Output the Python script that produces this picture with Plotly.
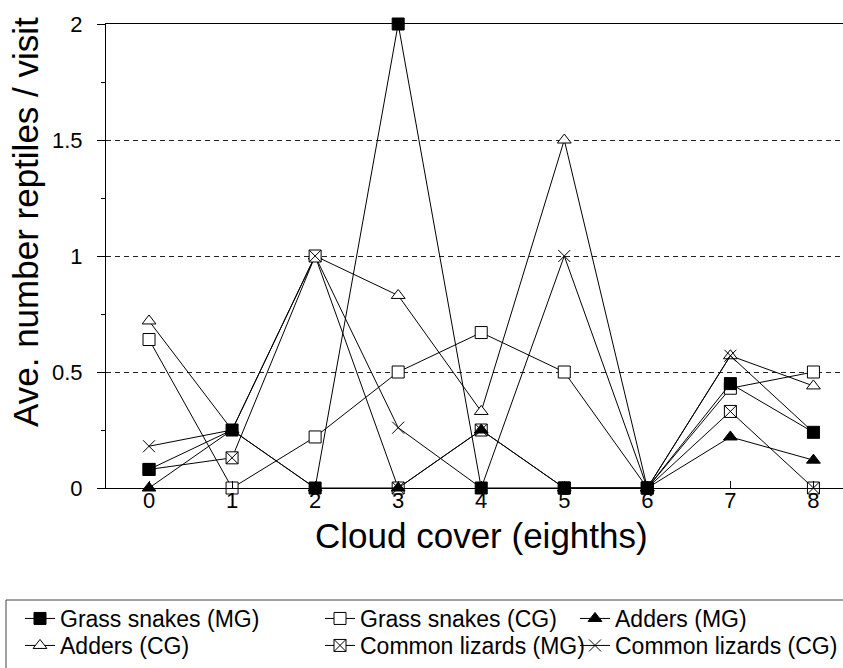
import plotly.graph_objects as go

# Cloud cover in eighths (x categories)
cloud_cover = [0, 1, 2, 3, 4, 5, 6, 7, 8]
x_tick_labels = ["0", "1", "2", "3", "4", "5", "6", "7", "8"]
y_tick_vals = [0, 0.5, 1, 1.5, 2]
y_tick_labels = ["0", "0.5", "1", "1.5", "2"]

# Average number of reptiles per visit for each survey group
grass_snakes_mg = [0.08, 0.25, 0, 2.0, 0, 0, 0, 0.45, 0.24]
grass_snakes_cg = [0.64, 0, 0.22, 0.5, 0.67, 0.5, 0, 0.43, 0.5]
adders_mg = [0, 0.25, 0, 0, 0.25, 0, 0, 0.22, 0.12]
adders_cg = [0.72, 0.25, 1.0, 0.83, 0.33, 1.5, 0, 0.57, 0.44]
lizards_mg = [0.08, 0.13, 1.0, 0, 0.25, 0, 0, 0.33, 0]
lizards_cg = [0.18, 0.25, 1.0, 0.26, 0, 1.0, 0, 0.57, 0.24]

FONT = "Liberation Sans, Arial, Helvetica, sans-serif"
INK = "black"

fig = go.Figure()


def add_series(name, values, symbol, fill, legend):
    fig.add_trace(go.Scatter(
        x=cloud_cover, y=values, name=name, mode="lines+markers",
        line=dict(color=INK, width=1),
        marker=dict(symbol=symbol, size=12, color=fill,
                    line=dict(color=INK, width=1)),
        cliponaxis=False, legend=legend,
    ))


# drawing order controls which marker sits on top where points coincide
add_series("Adders (CG)", adders_cg, "triangle-up", "white", "legend4")
add_series("Common lizards (CG)", lizards_cg, "x-thin", INK, "legend6")
add_series("Common lizards (MG)", lizards_mg, "square-x", "white", "legend5")
add_series("Grass snakes (CG)", grass_snakes_cg, "square", "white", "legend2")
add_series("Adders (MG)", adders_mg, "triangle-up", INK, "legend3")
add_series("Grass snakes (MG)", grass_snakes_mg, "square", INK, "legend")

# plot area: x 106..843 px, y 24..488 px
def px_x(p):
    return (p - 106) / 737.0


def px_y(p):
    return (488 - p) / 464.0


def legend_at(left_px, top_px):
    return dict(
        x=px_x(left_px), y=px_y(top_px),
        orientation="v", xanchor="left", yanchor="top",
        font=dict(family=FONT, size=23, color=INK),
        bgcolor="rgba(0,0,0,0)", borderwidth=0, itemwidth=30,
        tracegroupgap=0,
    )


# three columns, two rows of legend entries
col_left = [20, 320, 575]
row_top = [597, 624]

fig.update_layout(
    width=843, height=668, autosize=False,
    margin=dict(l=106, r=0, t=24, b=180, pad=0),
    paper_bgcolor="white", plot_bgcolor="white",
    font=dict(family=FONT, color=INK),
    showlegend=True,
    legend=legend_at(col_left[0], row_top[0]),
    legend2=legend_at(col_left[1], row_top[0]),
    legend3=legend_at(col_left[2], row_top[0]),
    legend4=legend_at(col_left[0], row_top[1]),
    legend5=legend_at(col_left[1], row_top[1]),
    legend6=legend_at(col_left[2], row_top[1]),
    xaxis=dict(
        range=[-0.518, 8.356],
        tickmode="array", tickvals=cloud_cover, ticktext=x_tick_labels,
        showline=True, linecolor=INK, linewidth=1, mirror=True,
        ticks="inside", ticklen=7, tickcolor=INK,
        showgrid=False, zeroline=False,
        tickfont=dict(family=FONT, size=22, color=INK),
        ticklabelstandoff=-7,
    ),
    yaxis=dict(
        range=[0, 2],
        tickmode="array", tickvals=y_tick_vals, ticktext=y_tick_labels,
        showline=True, linecolor=INK, linewidth=1,
        ticks="outside", ticklen=8, tickcolor=INK,
        showgrid=True, gridcolor="#222", gridwidth=1, griddash="5px,4px",
        zeroline=False,
        minor=dict(dtick=0.25, tick0=0, ticks="outside", ticklen=4,
                   tickcolor=INK, showgrid=False),
        tickfont=dict(family=FONT, size=22, color=INK),
        ticklabelstandoff=10,
    ),
    annotations=[
        dict(
            text="Ave. number reptiles / visit", textangle=-90,
            x=px_x(25), y=px_y(222), xref="paper", yref="paper",
            xanchor="center", yanchor="middle", showarrow=False,
            font=dict(family=FONT, size=35, color=INK),
        ),
        dict(
            text="Cloud cover (eighths)",
            x=px_x(481), y=px_y(535), xref="paper", yref="paper",
            xanchor="center", yanchor="middle", showarrow=False,
            font=dict(family=FONT, size=35, color=INK),
        ),
    ],
    shapes=[dict(
        type="rect", xref="paper", yref="paper",
        x0=px_x(6), x1=px_x(860), y0=px_y(600), y1=px_y(720),
        line=dict(color="#444", width=1), fillcolor="rgba(0,0,0,0)",
        layer="below",
    )],
)

fig.write_html("out.html")
